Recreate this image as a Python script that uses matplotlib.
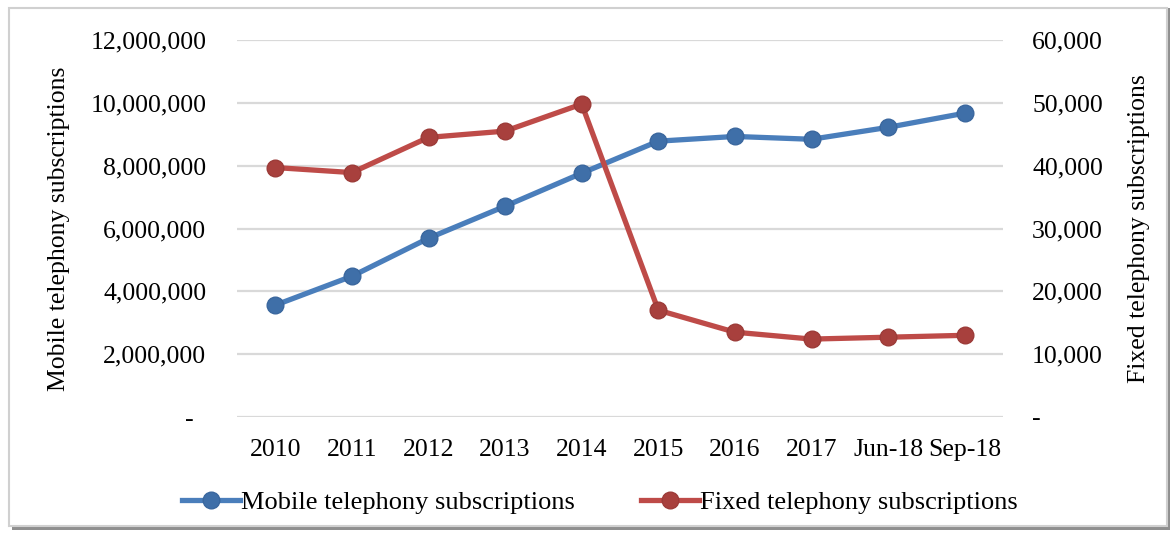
import matplotlib.pyplot as plt
from matplotlib.patches import Rectangle
from matplotlib.ticker import FuncFormatter

# data
periods = ["2010", "2011", "2012", "2013", "2014", "2015", "2016", "2017", "Jun-18", "Sep-18"]
mobile = [3560000, 4480000, 5690000, 6710000, 7760000, 8780000, 8930000, 8840000, 9220000, 9670000]
fixed = [39700, 38900, 44500, 45500, 49800, 17000, 13500, 12400, 12700, 13000]

blue = "#4A7EBB"
red = "#BE4B48"
plt.rcParams['font.family'] = ['Liberation Serif', 'DejaVu Serif']
fs = 18.5

fig = plt.figure(figsize=(11.72, 5.36), dpi=100)

# chart frame with a little shadow
fig.patches.append(Rectangle((12 / 1172, 6 / 536), 1158 / 1172, 522 / 536, transform=fig.transFigure,
                             facecolor="#8f8f8f", edgecolor="none", zorder=0))
fig.patches.append(Rectangle((9 / 1172, 10 / 536), 1158 / 1172, 518 / 536, transform=fig.transFigure,
                             facecolor="white", edgecolor="#d0d0d0", linewidth=1.5, zorder=1))

ax = fig.add_axes([237 / 1172, 1 - 417 / 536, 766 / 1172, 377 / 536])
ax2 = ax.twinx()
ax.set_zorder(2)
ax2.set_zorder(3)
ax.patch.set_visible(False)

x = list(range(len(periods)))
l1, = ax.plot(x, mobile, color=blue, linewidth=3.8, marker='o', markersize=12,
              markerfacecolor="#3f6fa8", markeredgecolor="#3a679e", label="Mobile telephony subscriptions")
l2, = ax2.plot(x, fixed, color=red, linewidth=3.8, marker='o', markersize=12,
               markerfacecolor="#a8403d", markeredgecolor="#9c3b38", label="Fixed telephony subscriptions")

ax.set_xlim(-0.5, len(periods) - 0.5)
ax.set_ylim(0, 12000000)
ax2.set_ylim(0, 60000)
ax.set_yticks(range(0, 12000001, 2000000))
ax2.set_yticks(range(0, 60001, 10000))
ax.yaxis.grid(True, color="#d9d9d9", linewidth=1.6)
ax.set_axisbelow(True)

ax.yaxis.set_major_formatter(FuncFormatter(lambda v, p: f"{int(v):,}" if v else "-  "))
ax2.yaxis.set_major_formatter(FuncFormatter(lambda v, p: f"{int(v):,}" if v else "-"))
ax.set_xticks(x)
ax.set_xticklabels(periods)

for a in (ax, ax2):
    for s in a.spines.values():
        s.set_visible(False)
    a.tick_params(length=0, labelsize=fs)
ax.tick_params(axis='y', pad=22)
ax2.tick_params(axis='y', pad=21)
ax.tick_params(axis='x', pad=16)

ax.set_ylabel("Mobile telephony subscriptions", fontsize=fs)
ax2.set_ylabel("Fixed telephony subscriptions", fontsize=fs, rotation=90)
ax.yaxis.set_label_coords(-0.23 + 0.012, 0.5)
ax2.yaxis.set_label_coords(1.163, 0.5)

fig.legend(handles=[l1, l2], loc='center', bbox_to_anchor=(600 / 1172, 1 - 502 / 536), ncol=2,
           frameon=False, fontsize=19, handlelength=2.2, handletextpad=0.05, columnspacing=2.5)

fig.savefig("out.png", dpi=100)
